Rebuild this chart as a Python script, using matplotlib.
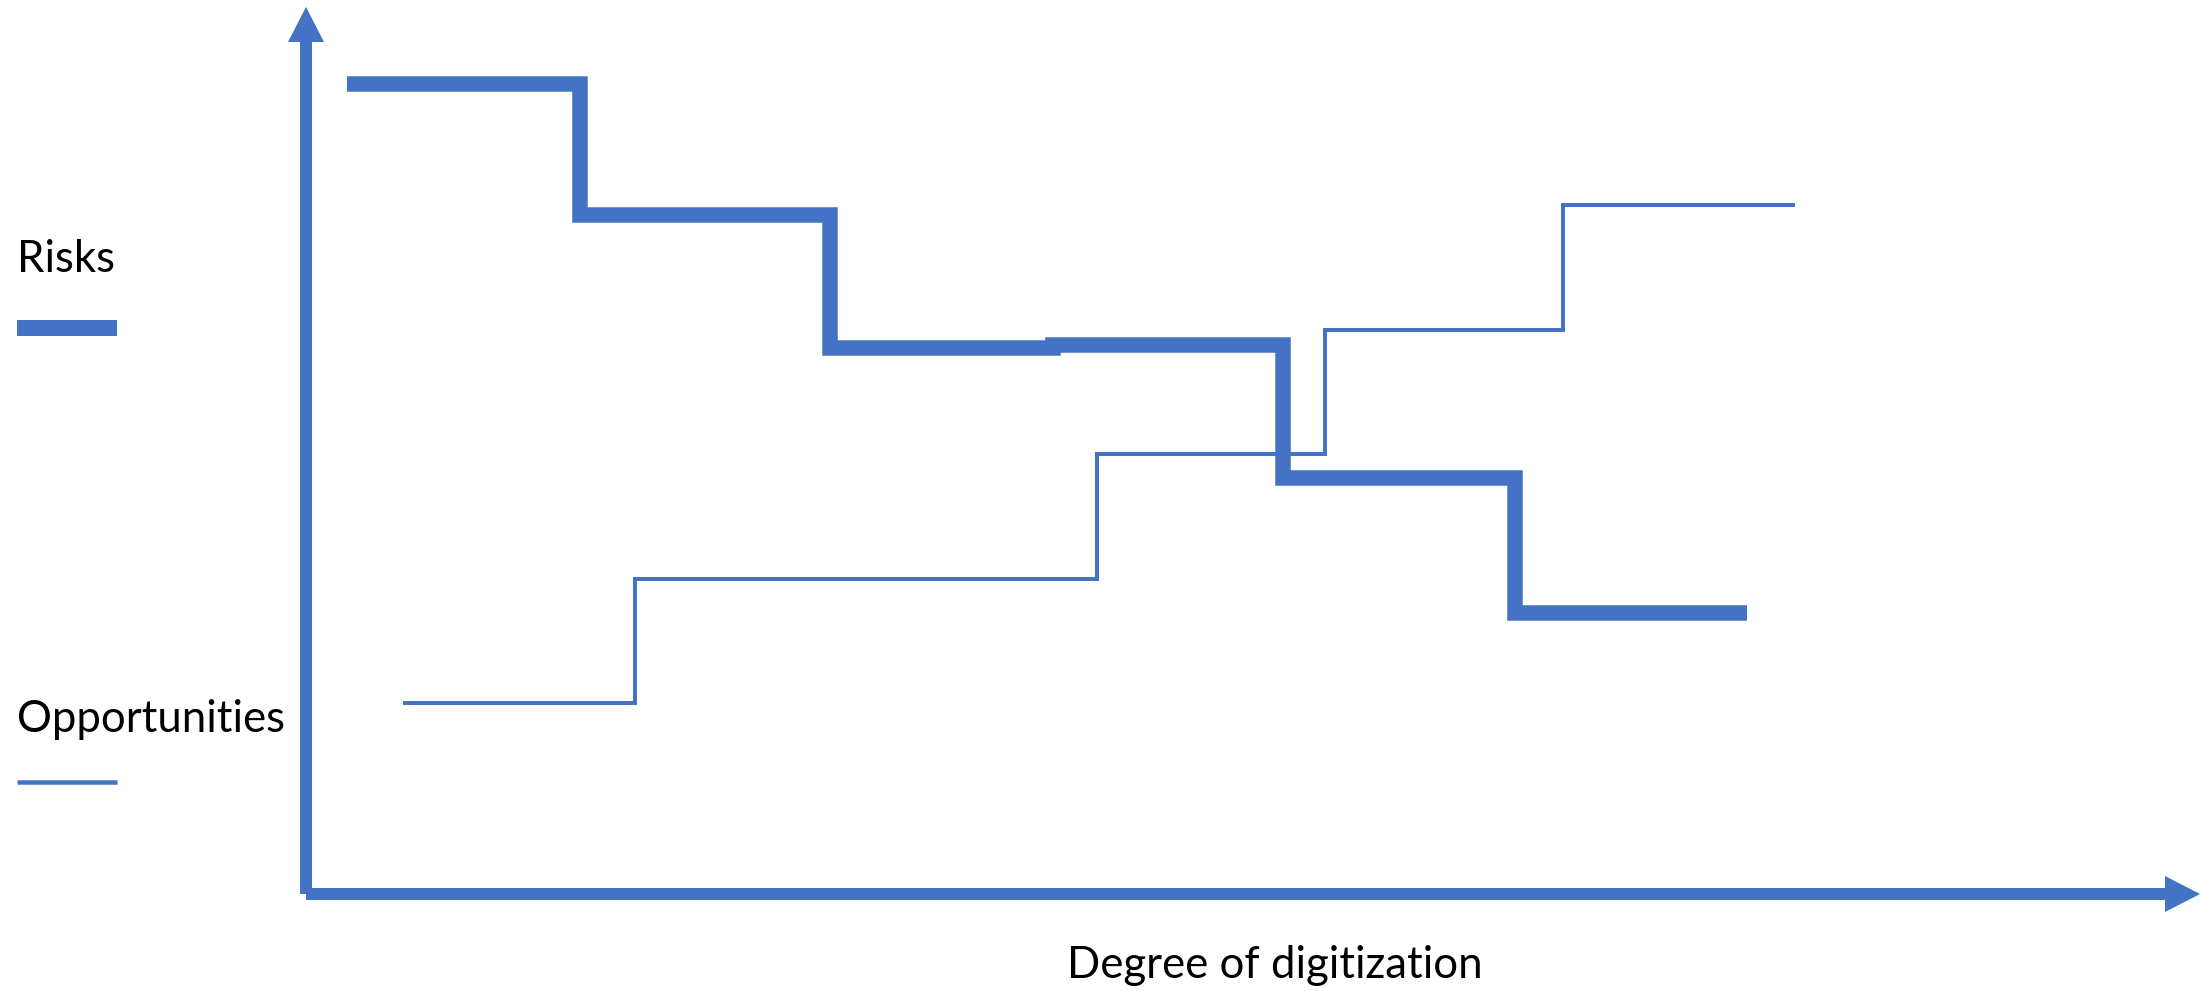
import matplotlib
matplotlib.use("Agg")
import matplotlib.pyplot as plt
from matplotlib.lines import Line2D
from matplotlib.patches import ArrowStyle

BLUE = "#4472C4"

# Six digitization stages; each series is a staircase over the stages.
risk_edges = [0.175, 1.18, 2.26, 3.22, 4.21, 5.21, 6.21]
risk_levels = [8.10, 6.79, 5.46, 5.485, 4.16, 2.81]

opp_edges = [0.417, 1.418, 2.41, 3.409, 4.392, 5.418, 6.418]
opp_levels = [1.91, 3.15, 3.15, 4.40, 5.64, 6.89]

series_labels = ["Risks", "Opportunities"]
x_label = "Degree of digitization"

W, H, DPI = 22.0, 9.91, 100
fig = plt.figure(figsize=(W, H), dpi=DPI)
fig.patch.set_facecolor("white")

px_w, px_h = W * DPI, H * DPI
ox, oy = 306, 894  # axis origin in pixels
ax = fig.add_axes([ox / px_w, (px_h - oy) / px_h, (px_w - ox) / px_w, oy / px_h])
ax.set_xlim(0, (px_w - ox) / 232)
ax.set_ylim(0, oy / 100)
ax.axis("off")

def pt(px):
    return px * 72.0 / DPI

def staircase(edges, levels):
    xs = list(edges)
    ys = list(levels) + [levels[-1]]
    return xs, ys

rx, ry = staircase(risk_edges, risk_levels)
ax.plot(rx, ry, drawstyle="steps-post", color=BLUE, lw=pt(15.5),
        solid_capstyle="butt", solid_joinstyle="miter", clip_on=False)

qx, qy = staircase(opp_edges, opp_levels)
ax.plot(qx, qy, drawstyle="steps-post", color=BLUE, lw=pt(4),
        solid_capstyle="butt", solid_joinstyle="miter", clip_on=False)

# Axes drawn as block arrows
arrow = ArrowStyle.Simple(head_length=pt(35), head_width=pt(36), tail_width=pt(12))
xmax = ax.get_xlim()[1]
ymax_tip = (oy - 7) / 100
ax.annotate("", xy=(xmax, 0), xytext=(0, 0), annotation_clip=False,
            arrowprops=dict(arrowstyle=arrow, color=BLUE, lw=0,
                            shrinkA=0, shrinkB=0, mutation_scale=1))
ax.annotate("", xy=(0, ymax_tip), xytext=(0, 0), annotation_clip=False,
            arrowprops=dict(arrowstyle=arrow, color=BLUE, lw=0,
                            shrinkA=0, shrinkB=0, mutation_scale=1))

# Legend: label above a sample line
font = dict(family=["Lato", "DejaVu Sans"], size=31.5, color="black")
fig.text(17 / px_w, 1 - 272 / px_h, series_labels[0], ha="left", va="baseline", **font)
fig.add_artist(Line2D([17 / px_w, 117 / px_w], [1 - 328 / px_h] * 2, color=BLUE,
                      lw=pt(16), solid_capstyle="butt"))
fig.text(17 / px_w, 1 - 732 / px_h, series_labels[1], ha="left", va="baseline", **font)
fig.add_artist(Line2D([17 / px_w, 117 / px_w], [1 - 781.5 / px_h] * 2, color=BLUE,
                      lw=pt(4.5), solid_capstyle="butt"))

fig.text(1067 / px_w, 1 - 978 / px_h, x_label, ha="left", va="baseline", **font)

fig.savefig("out.png", dpi=DPI, facecolor="white")
